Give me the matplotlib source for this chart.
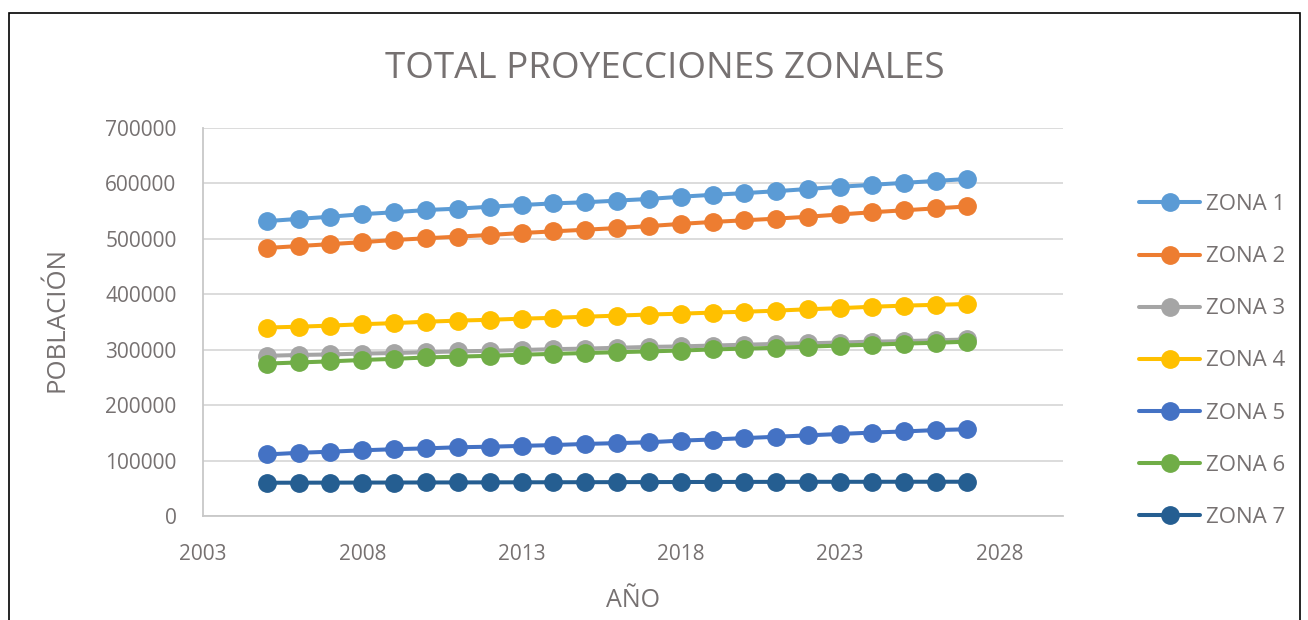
"""
Total de proyecciones zonales de población, 2005-2027.
"""

import matplotlib
matplotlib.use("Agg")
import matplotlib.pyplot as plt
from matplotlib.patches import Rectangle

plt.rcParams["font.family"] = ["Open Sans", "DejaVu Sans"]

TEXT_COLOR = "#767171"
GRID_COLOR = "#D9D9D9"

years = list(range(2005, 2028))

zona1 = [532000, 536000, 540000, 544500, 548000, 552000, 554500, 558000, 561000, 564000, 566000, 569000,
         572000, 576000, 579500, 582500, 586000, 590000, 594000, 597500, 601000, 604500, 608000]
zona2 = [483500, 487000, 490500, 494000, 498000, 501000, 504000, 507000, 510500, 513500, 516500, 519500,
         523000, 527000, 530500, 533500, 536500, 540000, 544000, 548000, 551500, 555000, 558500]
zona3 = [289000, 290500, 291500, 293000, 294000, 295500, 297000, 298000, 299500, 301000, 302000, 303500,
         305000, 306000, 307500, 309000, 310500, 311500, 313000, 314500, 315500, 317000, 318500]
zona4 = [340000, 341500, 343500, 346000, 348000, 350500, 352500, 354000, 356000, 357500, 359500, 361500,
         363500, 365000, 367000, 368500, 370500, 373000, 375000, 377500, 379500, 381000, 382500]
zona5 = [111000, 114000, 116000, 118500, 120500, 122000, 124000, 125000, 126500, 128000, 130000, 131500,
         133000, 136000, 138000, 140500, 143000, 145500, 148000, 150500, 152500, 155000, 156500]
zona6 = [275000, 277000, 279000, 281500, 283500, 286000, 287500, 289000, 291000, 292500, 294000, 295500,
         297000, 298500, 300500, 302000, 303500, 305500, 307500, 309000, 311000, 312500, 314500]
zona7 = [60000, 60100, 60200, 60300, 60400, 60500, 60600, 60700, 60800, 60900, 61000, 61100,
         61200, 61300, 61400, 61500, 61600, 61700, 61700, 61700, 61800, 61800, 61800]

series = [
    ("ZONA 1", zona1, "#5B9BD5"),
    ("ZONA 2", zona2, "#ED7D31"),
    ("ZONA 3", zona3, "#A5A5A5"),
    ("ZONA 4", zona4, "#FFC000"),
    ("ZONA 5", zona5, "#4472C4"),
    ("ZONA 6", zona6, "#70AD47"),
    ("ZONA 7", zona7, "#255E91"),
]

x_ticks = [2003, 2008, 2013, 2018, 2023, 2028]
y_ticks = [0, 100000, 200000, 300000, 400000, 500000, 600000, 700000]


def main():
    W, H = 1308, 620
    fig = plt.figure(figsize=(W / 100, H / 100), dpi=100)
    ax = fig.add_axes([203 / W, 1 - 516 / H, (1063 - 203) / W, (516 - 128) / H])

    for nombre, valores, color in series:
        ax.plot(years, valores, color=color, linewidth=2.9, marker="o",
                markersize=12.5, label=nombre, solid_capstyle="round")

    ax.set_xlim(2003, 2030)
    ax.set_ylim(0, 700000)
    ax.set_xticks(x_ticks)
    ax.set_yticks(y_ticks)
    ax.set_xticklabels([str(t) for t in x_ticks])
    ax.set_yticklabels([str(t) for t in y_ticks])
    ax.tick_params(length=0, labelsize=15, colors=TEXT_COLOR)
    ax.tick_params(axis="y", pad=19)
    ax.tick_params(axis="x", pad=20)

    ax.grid(axis="y", color=GRID_COLOR, linewidth=1.3)
    ax.set_axisbelow(True)
    for lado in ["top", "right"]:
        ax.spines[lado].set_visible(False)
    for lado in ["left", "bottom"]:
        ax.spines[lado].set_color("#C8C8C8")
        ax.spines[lado].set_linewidth(1.3)

    fig.text(665 / W, 1 - 78 / H, "TOTAL PROYECCIONES ZONALES", ha="center", va="baseline",
             fontsize=26.5, color=TEXT_COLOR)
    fig.text(57 / W, 1 - 320 / H, "POBLACIÓN", rotation=90, ha="center", va="center",
             fontsize=18.5, color=TEXT_COLOR)
    fig.text(633 / W, 1 - 607 / H, "AÑO", ha="center", va="baseline",
             fontsize=18, color=TEXT_COLOR)

    leg = ax.legend(loc="center left", bbox_to_anchor=(1139 / W, 1 - 361 / H),
                    bbox_transform=fig.transFigure, frameon=False, fontsize=16,
                    borderpad=0, borderaxespad=0, handlelength=2.75,
                    handletextpad=0.25, labelspacing=1.4)
    for txt in leg.get_texts():
        txt.set_color(TEXT_COLOR)

    # marco del gráfico
    fig.add_artist(Rectangle((9 / W, -0.05), (1300 - 9) / W, 1.05 - 13 / H,
                             transform=fig.transFigure, fill=False,
                             edgecolor="black", linewidth=1.2))

    fig.savefig("out.png", dpi=100)
    plt.close(fig)


if __name__ == "__main__":
    main()
